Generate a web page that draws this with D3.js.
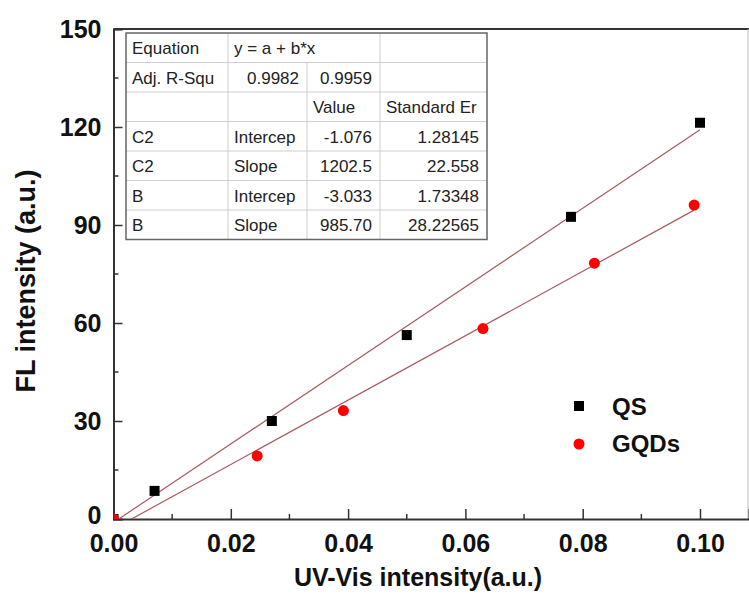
<!DOCTYPE html>
<html>
<head>
<meta charset="utf-8">
<script src="https://cdn.jsdelivr.net/npm/d3@7"></script>
<style>
  html, body { margin: 0; padding: 0; background: #fff; }
  svg { display: block; font-family: "Liberation Sans", Arial, sans-serif; }
</style>
</head>
<body>
<svg id="chart"></svg>
<script>
// data
const qsX = [0, 0.007, 0.027, 0.050, 0.078, 0.100];
const qsY = [0, 8.6, 30.0, 56.3, 92.5, 121.3];
const gqdX = [0, 0.0245, 0.0392, 0.063, 0.082, 0.099];
const gqdY = [0, 19.3, 33.2, 58.3, 78.3, 96.1];

// fit results (C2 = QS, B = GQDs)
const fitNames = ["C2", "B"];
const intercepts = [-1.076, -3.033];
const slopes = [1202.5, 985.70];

const xTicks = [0, 0.02, 0.04, 0.06, 0.08, 0.10];
const xMinor = [0.01, 0.03, 0.05, 0.07, 0.09];
const yTicks = [0, 30, 60, 90, 120, 150];
const yMinor = [15, 45, 75, 105, 135];

const tableRows = [
  ["Equation", "y = a + b*x", null, ""],
  ["Adj. R-Squ", "0.9982", "0.9959", ""],
  ["", "", "Value", "Standard Er"],
  ["C2", "Intercep", "-1.076", "1.28145"],
  ["C2", "Slope", "1202.5", "22.558"],
  ["B", "Intercep", "-3.033", "1.73348"],
  ["B", "Slope", "985.70", "28.22565"]
];

const W = 749, H = 615;
const plotL = 113.5, plotR = 748, plotT = 29, plotB = 519;

const svg = d3.select("#chart").attr("width", W).attr("height", H);

const x = d3.scaleLinear().domain([0, (W - plotL) / 5865]).range([plotL, W]);
const y = d3.scaleLinear().domain([0, 150]).range([plotB, plotT]);

svg.append("defs").append("clipPath").attr("id", "plotclip")
  .append("rect").attr("x", plotL).attr("y", plotT)
  .attr("width", plotR - plotL).attr("height", plotB - plotT);

// frame: top and right
svg.append("line").attr("x1", plotL).attr("x2", W).attr("y1", plotT).attr("y2", plotT)
  .attr("stroke", "#333").attr("stroke-width", 2);
svg.append("line").attr("x1", plotR).attr("x2", plotR).attr("y1", plotT).attr("y2", plotB)
  .attr("stroke", "#bbb").attr("stroke-width", 1);

// axes with inward ticks
const xAxis = svg.append("g").attr("transform", `translate(0,${plotB})`)
  .call(d3.axisBottom(x).tickValues(xTicks).tickSize(-10).tickFormat(d3.format(".2f")).tickPadding(0));
xAxis.select(".domain").attr("stroke", "#333").attr("stroke-width", 2);
xAxis.selectAll(".tick line").attr("stroke", "#333").attr("stroke-width", 1.5);
xAxis.selectAll(".tick text").attr("y", 0).attr("dy", null)
  .attr("transform", "translate(0,33)")
  .attr("font-size", 25).attr("font-weight", "bold").attr("fill", "#111")
  .attr("font-family", "'Liberation Sans', Arial, sans-serif");
xAxis.selectAll(".minor").data(xMinor).join("line")
  .attr("x1", d => x(d)).attr("x2", d => x(d)).attr("y1", 0).attr("y2", -5)
  .attr("stroke", "#333").attr("stroke-width", 1.5);

const yAxis = svg.append("g").attr("transform", `translate(${plotL},0)`)
  .call(d3.axisLeft(y).tickValues(yTicks).tickSize(-9).tickPadding(12));
yAxis.select(".domain").attr("stroke", "#333").attr("stroke-width", 2);
yAxis.selectAll(".tick line").attr("stroke", "#333").attr("stroke-width", 1.5);
yAxis.selectAll(".tick text")
  .attr("font-size", 25).attr("font-weight", "bold").attr("fill", "#111")
  .attr("font-family", "'Liberation Sans', Arial, sans-serif")
  .attr("y", d => d === 0 ? -4 : 0);
yAxis.selectAll(".minor").data(yMinor).join("line")
  .attr("x1", 0).attr("x2", 5).attr("y1", d => y(d)).attr("y2", d => y(d))
  .attr("stroke", "#333").attr("stroke-width", 1.5);

// axis titles
svg.append("text")
  .attr("transform", "translate(35,281) rotate(-90)")
  .attr("text-anchor", "middle")
  .attr("font-size", 27).attr("font-weight", "bold").attr("fill", "#111")
  .text("FL intensity (a.u.)");
svg.append("text")
  .attr("x", 418).attr("y", 586)
  .attr("text-anchor", "middle")
  .attr("font-size", 25).attr("font-weight", "bold").attr("fill", "#111")
  .text("UV-Vis intensity(a.u.)");

const plot = svg.append("g").attr("clip-path", "url(#plotclip)");

// fit lines
const fitEnds = [d3.max(qsX), d3.max(gqdX)];
fitNames.forEach((n, i) => {
  plot.append("line")
    .attr("x1", x(0)).attr("y1", y(intercepts[i]))
    .attr("x2", x(fitEnds[i])).attr("y2", y(intercepts[i] + slopes[i] * fitEnds[i]))
    .attr("stroke", "#a85a62").attr("stroke-width", 1.2);
});

// points
plot.selectAll(".qs").data(qsX).join("rect")
  .attr("x", (d) => x(d) - 5).attr("y", (d, i) => y(qsY[i]) - 5)
  .attr("width", 10).attr("height", 10).attr("fill", "#000");
plot.selectAll(".gqd").data(gqdX).join("circle")
  .attr("cx", d => x(d)).attr("cy", (d, i) => y(gqdY[i]))
  .attr("r", 5.5).attr("fill", "#f00");

// legend
const legend = svg.append("g");
legend.append("rect").attr("x", 574).attr("y", 401).attr("width", 10).attr("height", 10).attr("fill", "#000");
legend.append("circle").attr("cx", 579).attr("cy", 444).attr("r", 5.5).attr("fill", "#f00");
legend.append("text").attr("x", 612).attr("y", 415)
  .attr("font-size", 24).attr("font-weight", "bold").attr("fill", "#111").text("QS");
legend.append("text").attr("x", 612).attr("y", 452)
  .attr("font-size", 24).attr("font-weight", "bold").attr("fill", "#111").text("GQDs");

// fit table
const colX = [126, 228, 307, 380, 487];
const rowY = d3.range(tableRows.length + 1).map(i => 33 + i * 29.5);
const tbl = svg.append("g");
tbl.append("rect").attr("x", colX[0]).attr("y", rowY[0])
  .attr("width", colX[4] - colX[0]).attr("height", rowY[rowY.length - 1] - rowY[0])
  .attr("fill", "#fff");
// inner horizontal lines
tbl.selectAll(".hl").data(rowY.slice(1, -1)).join("line")
  .attr("x1", colX[0]).attr("x2", colX[4]).attr("y1", d => d).attr("y2", d => d)
  .attr("stroke", "#cfcfcf").attr("stroke-width", 1);
// inner vertical lines
[1, 2, 3].forEach(c => {
  const y0 = c === 2 ? rowY[1] : rowY[0];
  tbl.append("line").attr("x1", colX[c]).attr("x2", colX[c])
    .attr("y1", y0).attr("y2", rowY[rowY.length - 1])
    .attr("stroke", "#cfcfcf").attr("stroke-width", 1);
});
tbl.append("rect").attr("x", colX[0]).attr("y", rowY[0])
  .attr("width", colX[4] - colX[0]).attr("height", rowY[rowY.length - 1] - rowY[0])
  .attr("fill", "none").attr("stroke", "#666").attr("stroke-width", 1.5);

const isNum = s => /^-?[0-9.]+$/.test(s);
tableRows.forEach((row, r) => {
  row.forEach((cell, c) => {
    if (!cell) return;
    const num = isNum(cell);
    tbl.append("text")
      .attr("x", num ? colX[c + 1] - 8 : colX[c] + 6)
      .attr("y", rowY[r] + 21)
      .attr("text-anchor", num ? "end" : "start")
      .attr("font-size", 17).attr("fill", "#222")
      .text(cell);
  });
});
</script>
</body>
</html>
